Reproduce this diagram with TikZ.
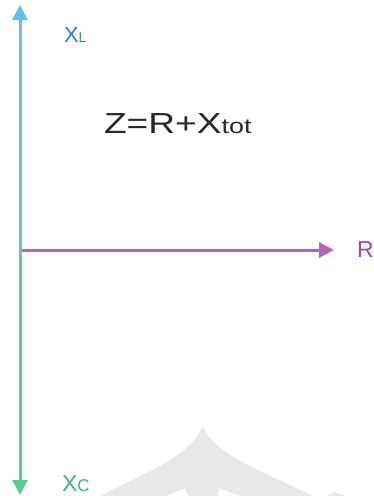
\documentclass[tikz,border=0pt]{standalone}
\usepackage{fontspec}
\usepackage{graphicx}
\setmainfont{Liberation Sans}
\usetikzlibrary{arrows.meta}
\definecolor{axblue}{RGB}{100,190,235}
\definecolor{txblue}{RGB}{45,125,215}
\definecolor{axgreen}{RGB}{90,205,145}
\definecolor{txgreen}{RGB}{70,175,115}
\definecolor{axpurple}{RGB}{180,100,185}
\definecolor{txpurple}{RGB}{165,60,205}
\definecolor{wmark}{RGB}{232,232,232}
\tikzset{
  axis/.style={line width=3pt,-{Triangle[length=15pt,width=15pt]}},
  lbl/.style={anchor=base west,inner sep=0pt,outer sep=0pt}
}
\begin{document}
\begin{tikzpicture}[x=1pt,y=-1pt]
\useasboundingbox (0,0) rectangle (374,496);
\fill[white] (0,0) rectangle (374,496);
% watermark
\fill[wmark] (100,496) .. controls (150,470) and (185,460) .. (203,427)
  .. controls (215,455) and (260,470) .. (313,496) -- (240,496) -- (219,488) -- (218,496)
  -- (189,496) -- (185,488) -- (166,496) -- cycle;
\fill[wmark] (327,496) -- (335,492) -- (345,496) -- cycle;
% axes
\coordinate (o) at (20,250);
\coordinate (top) at (20,5);
\coordinate (bot) at (20,495);
\coordinate (right) at (334,250);
\draw[axis,axpurple] (o) -- (right);
\draw[axis,axblue] (o) -- (top);
\draw[axis,axgreen] (o) -- (bot);
% labels
\node[lbl,text=txblue] (xl) at (64,42) {\fontsize{22}{22}\selectfont X\fontsize{14}{14}\selectfont L};
\node[lbl,text=txpurple] (r) at (357,257) {\fontsize{23}{23}\selectfont R};
\node[lbl,text=txgreen] (xc) at (62,491) {\fontsize{23}{23}\selectfont X\fontsize{17}{17}\selectfont C};
\node[lbl,text={rgb,255:red,40;green,40;blue,40}] (z) at (104,133) {\scalebox{1.28}[1]{\fontsize{29}{29}\selectfont Z=R+X\fontsize{21}{21}\selectfont tot}};
\end{tikzpicture}
\end{document}
